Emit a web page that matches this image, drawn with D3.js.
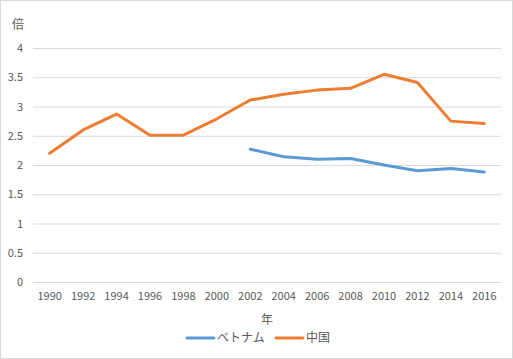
<!DOCTYPE html>
<html><head><meta charset="utf-8">
<script src="https://cdn.jsdelivr.net/npm/d3@7"></script>
<style>body{margin:0;background:#fff}svg{display:block}</style>
</head><body>
<script>
const years = ["1990","1992","1994","1996","1998","2000","2002","2004","2006","2008","2010","2012","2014","2016"];
const vietnam = [null,null,null,null,null,null,2.27,2.14,2.10,2.11,2.00,1.90,1.94,1.88];
const china = [2.20,2.60,2.87,2.51,2.51,2.79,3.11,3.21,3.28,3.31,3.55,3.41,2.75,2.71];
const yTicks = [0,0.5,1,1.5,2,2.5,3,3.5,4];
const seriesNames = ["ベトナム","中国"];
const colors = ["#5B9BD5","#ED7D31"];

const W=513,H=359;
const font = "'Noto Sans CJK JP', sans-serif";
const svg = d3.select("body").append("svg").attr("width",W).attr("height",H);
svg.append("rect").attr("x",0.5).attr("y",0.5).attr("width",W-1).attr("height",H-1).attr("fill","#fff").attr("stroke","#d9d9d9");

const x = d3.scaleBand().domain(years).range([33,501]);
const y = d3.scaleLinear().domain([0,4]).range([282,48]);

const ga = svg.append("g").attr("transform","translate(33,0)")
  .call(d3.axisLeft(y).tickValues(yTicks).tickSize(-468).tickFormat(d=>String(d)).tickPadding(10));
ga.select(".domain").remove();
ga.selectAll(".tick line").attr("stroke","#d9d9d9");
ga.selectAll(".tick text").attr("fill","#595959").style("font-family",font).style("font-size","11px");

const gx = svg.append("g").attr("transform","translate(0,282)")
  .call(d3.axisBottom(x).tickSize(0).tickPadding(10));
gx.select(".domain").remove();
gx.selectAll(".tick text").attr("fill","#595959").style("font-family",font).style("font-size","11px");

svg.append("text").attr("x",18).attr("y",29).attr("text-anchor","middle").attr("fill","#595959")
  .style("font-family",font).style("font-size","12px").text("倍");
svg.append("text").attr("x",267).attr("y",324).attr("text-anchor","middle").attr("fill","#595959")
  .style("font-family",font).style("font-size","12px").text("年");

const line = d3.line().defined(d=>d!=null).x((d,i)=>x(years[i])+x.bandwidth()/2).y(d=>y(d));
[vietnam,china].forEach((s,k)=>{
  svg.append("path").datum(s).attr("d",line).attr("fill","none").attr("stroke",colors[k])
    .attr("stroke-width",3).attr("stroke-linejoin","round").attr("stroke-linecap","round");
});

const leg = [{x:187},{x:276}];
seriesNames.forEach((n,k)=>{
  svg.append("line").attr("x1",leg[k].x).attr("x2",leg[k].x+27).attr("y1",338).attr("y2",338)
    .attr("stroke",colors[k]).attr("stroke-width",3).attr("stroke-linecap","round");
  svg.append("text").attr("x",leg[k].x+30).attr("y",342).attr("fill","#595959")
    .style("font-family",font).style("font-size","12px").text(n);
});
</script>
</body></html>
